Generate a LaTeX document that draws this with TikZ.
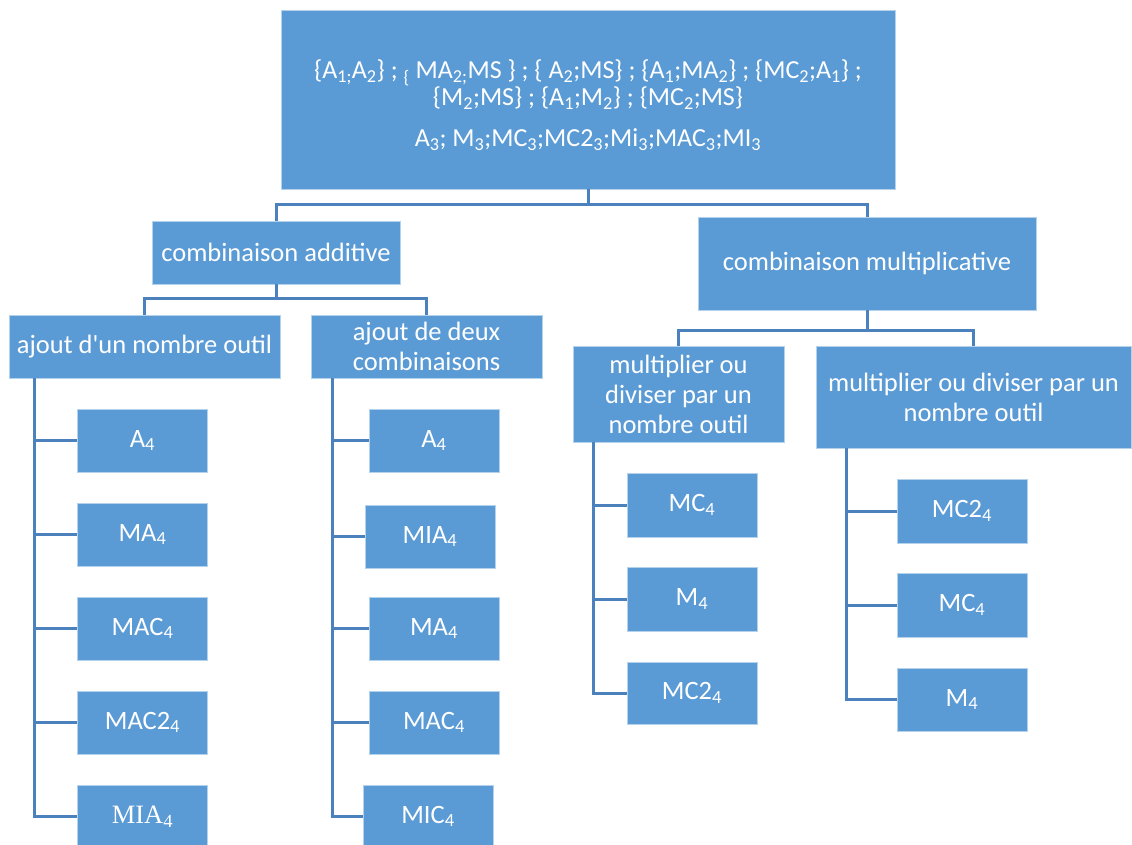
\documentclass[tikz,border=0pt]{standalone}
\usepackage{fontspec}
\setmainfont{Carlito}
\newfontfamily\timesfont{Liberation Serif}
\usetikzlibrary{calc}
\definecolor{boxblue}{HTML}{5B9BD5}
\definecolor{linkblue}{HTML}{4B82BE}
\newcommand{\sbs}[1]{\textsubscript{#1}}
\begin{document}
\begin{tikzpicture}[x=1pt,y=-1pt,
  box/.style={fill=boxblue, draw=white!55!boxblue, line width=0.8pt, text=white,
    inner sep=0pt, align=center, font=\fontsize{26.5}{30}\selectfont},
  leaf/.style={box, minimum width=130pt, minimum height=63pt},
  link/.style={draw=linkblue, line width=3pt}]
\useasboundingbox (0,0) rectangle (1132,845);

% top box
\node[box, minimum width=614pt, minimum height=179pt] (top) at (588,99.5) {};
\node[text=white, align=center, inner sep=0pt, font=\fontsize{26}{25}\selectfont] (toptext) at (588,105)
 {\{A\sbs{1;}A\sbs{2}\} ; \sbs{\{} MA\sbs{2;}MS \} ; \{ A\sbs{2};MS\} ; \{A\sbs{1};MA\sbs{2}\} ; \{MC\sbs{2};A\sbs{1}\} ;\\
  \{M\sbs{2};MS\} ; \{A\sbs{1};M\sbs{2}\} ; \{MC\sbs{2};MS\}\\[16pt]
  A\sbs{3}; M\sbs{3};MC\sbs{3};MC2\sbs{3};Mi\sbs{3};MAC\sbs{3};MI\sbs{3}};

% level 2
\node[box, minimum width=248pt, minimum height=63pt] (add) at (276,252.5) {combinaison additive};
\node[box, minimum width=338pt, minimum height=93pt] (mult) at (867,263.5) {combinaison multiplicative};

% level 3
\node[box, minimum width=271pt, minimum height=63pt] (g1) at (144.5,346.5) {ajout d\textquotesingle un nombre outil};
\node[box, minimum width=231pt, minimum height=63pt] (g2) at (426.5,346.5) {ajout de deux\\combinaisons};
\node[box, minimum width=211pt, minimum height=96pt] (g3) at (678.5,394) {multiplier ou\\diviser par un\\nombre outil};
\node[box, minimum width=315pt, minimum height=102pt] (g4) at (973.5,397) {multiplier ou diviser par un\\nombre outil};

% leaves column 1
\node[leaf] (a1) at (142.5,440.5) {A\sbs{4}};
\node[leaf] (a2) at (142.5,534.5) {MA\sbs{4}};
\node[leaf] (a3) at (142.5,628.5) {MAC\sbs{4}};
\node[leaf] (a4) at (142.5,722.5) {MAC2\sbs{4}};
\node[leaf, font=\timesfont\fontsize{26.5}{30}\selectfont] (a5) at (142.5,816.5) {MIA\sbs{4}};
% leaves column 2
\node[leaf] (b1) at (434,440.5) {A\sbs{4}};
\node[leaf] (b2) at (430,536.5) {MIA\sbs{4}};
\node[leaf] (b3) at (434,628.5) {MA\sbs{4}};
\node[leaf] (b4) at (434,722.5) {MAC\sbs{4}};
\node[leaf] (b5) at (428,816.5) {MIC\sbs{4}};
% leaves column 3
\node[leaf, minimum height=64pt] (c1) at (692,505) {MC\sbs{4}};
\node[leaf, minimum height=64pt] (c2) at (692,599) {M\sbs{4}};
\node[leaf, minimum height=62pt] (c3) at (692,693) {MC2\sbs{4}};
% leaves column 4
\node[leaf, minimum height=64pt] (d1) at (962,511) {MC2\sbs{4}};
\node[leaf, minimum height=64pt] (d2) at (962,605) {MC\sbs{4}};
\node[leaf, minimum height=63pt] (d3) at (962,699.5) {M\sbs{4}};

% connectors
\draw[link] (top.south) -- ++(0,15) -| (add.north);
\draw[link] (top.south) -- ++(0,15) -| (mult.north);
\draw[link] (add.south) -- ++(0,14) -| (g1.north);
\draw[link] (add.south) -- ++(0,14) -| (g2.north);
\draw[link] (mult.south) -- ++(0,20) -| (g3.north);
\draw[link] (mult.south) -- ++(0,20) -| (g4.north);

\foreach \n in {a1,a2,a3,a4,a5} \draw[link] ($(g1.south west)+(26,0)$) |- (\n.west);
\foreach \n in {b1,b2,b3,b4,b5} \draw[link] ($(g2.south west)+(22,0)$) |- (\n.west);
\foreach \n in {c1,c2,c3} \draw[link] ($(g3.south west)+(21,0)$) |- (\n.west);
\foreach \n in {d1,d2,d3} \draw[link] ($(g4.south west)+(31,0)$) |- (\n.west);
\end{tikzpicture}
\end{document}
